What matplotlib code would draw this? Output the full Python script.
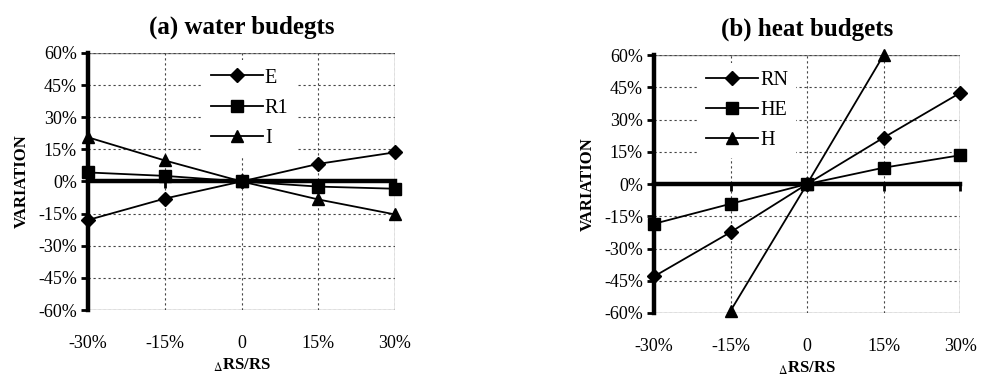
import numpy as np
import matplotlib
matplotlib.use("Agg")
import matplotlib.pyplot as plt
from matplotlib.patches import Rectangle

plt.rcParams['font.family'] = ['Liberation Serif', 'DejaVu Serif']
plt.rcParams['mathtext.fontset'] = 'stix'

# relative change of RS (%)
dRS = [-30, -15, 0, 15, 30]
xlabels = ['-30%', '-15%', '0', '15%', '30%']
yticks = [-60, -45, -30, -15, 0, 15, 30, 45, 60]

# (a) water budget responses (%)
E = [-18, -8, 0, 8.2, 13.6]
R1 = [4.2, 2.6, 0, -2.4, -3.4]
I = [20.6, 9.8, 0, -8.4, -15.4]

# (b) heat budget responses (%)
RN = [-43, -22.4, 0, 21.6, 42.4]
HE = [-18.5, -9.2, 0, 7.6, 13.4]
H = [-100, -59, 0, 60, 120]

panels = [
    ("(a) water budegts", [("E", E, 'D', 7), ("R1", R1, 's', 8), ("I", I, '^', 9)],
     [0.0897, 0.1777, 0.313, 0.682], 0.34),
    ("(b) heat budgets", [("RN", RN, 'D', 7), ("HE", HE, 's', 8), ("H", H, '^', 9)],
     [0.6667, 0.1698, 0.312, 0.684], 0.11),
]

fig = plt.figure(figsize=(9.81, 3.77), dpi=100)

for title, series, rect, legx in panels:
    ax = fig.add_axes(rect)
    ax.set_xlim(-30, 30)
    ax.set_ylim(-60, 60)

    # dotted grid + thin grey plot-area frame
    ax.set_yticks(yticks)
    ax.set_xticks(dRS)
    ax.grid(True, linestyle=(0, (2, 2.5)), color='#444444', lw=0.8, zorder=1)
    ax.add_patch(Rectangle((0, 0), 1, 1, transform=ax.transAxes, fill=False,
                           edgecolor='#888888', lw=1.0, zorder=1))

    for sp in ['top', 'right']:
        ax.spines[sp].set_visible(False)
    ax.spines['left'].set_linewidth(3.2)
    ax.spines['bottom'].set_position(('data', 0))
    ax.spines['bottom'].set_linewidth(3.2)
    ax.spines['bottom'].set_zorder(2.5)

    ax.set_yticklabels([f'{v}%' for v in yticks], fontsize=13)
    ax.tick_params(axis='y', direction='out', length=5, width=2, pad=3)
    ax.tick_params(axis='x', direction='out', length=5, width=2, labelbottom=False)

    # category labels along the bottom of the plot area
    sec = ax.secondary_xaxis(0.0)
    sec.set_xticks(dRS)
    sec.set_xticklabels(xlabels, fontsize=13)
    sec.tick_params(length=0, pad=18)
    sec.spines['bottom'].set_visible(False)

    handles = []
    for name, vals, mk, ms in series:
        vals = np.array(vals, dtype=float)
        ax.plot(dRS, vals, color='black', lw=1.3, zorder=3)
        inside = np.abs(vals) <= 60
        ax.plot(np.array(dRS)[inside], vals[inside], linestyle='none', marker=mk,
                ms=ms, color='black', zorder=4, clip_on=False)
        handles.append(plt.Line2D([], [], color='black', lw=1.3, marker=mk, ms=ms))

    leg = ax.legend(handles, [s[0] for s in series], loc='upper left',
                    bbox_to_anchor=(legx, 1.01), fontsize=14.5, handlelength=2.6,
                    handletextpad=0.1, labelspacing=0.55, frameon=True,
                    borderpad=0.4, fancybox=False)
    leg.get_frame().set_edgecolor('none')
    leg.get_frame().set_facecolor('white')
    leg.get_frame().set_alpha(1)
    leg.set_zorder(2)

    ax.set_title(title, fontsize=18, fontweight='bold', pad=14)
    ax.set_ylabel('VARIATION', fontsize=12, fontweight='bold', labelpad=6)
    ax.text(0.5, -0.215, r'$_{\Delta}$RS/RS', transform=ax.transAxes,
            ha='center', va='center', fontsize=12, fontweight='bold')

fig.savefig('out.png', dpi=100)
